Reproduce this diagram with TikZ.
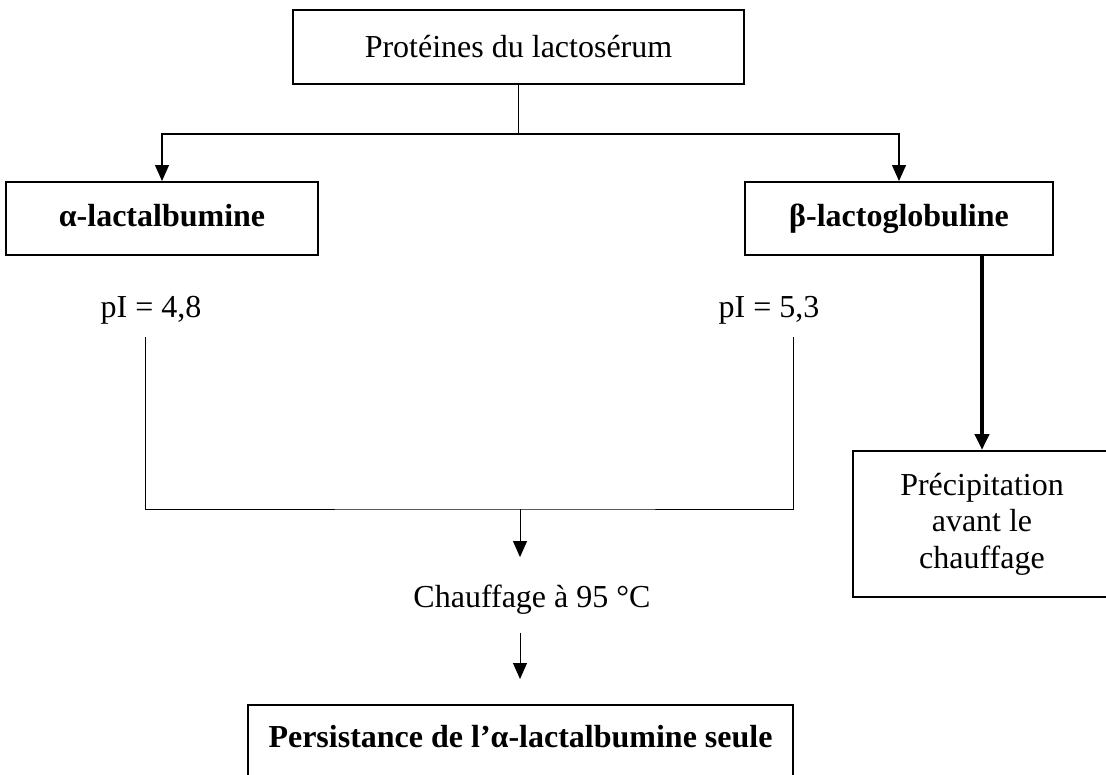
\documentclass[tikz,border=0pt]{standalone}
\usepackage{fontspec}
\setmainfont{Liberation Serif}
\usetikzlibrary{arrows.meta}

\begin{document}
\begin{tikzpicture}[x=1pt,y=-1pt,font=\fontsize{32}{36.5}\selectfont,
  box/.style={draw,line width=2pt,inner sep=0pt,align=center},
  lbl/.style={inner sep=0pt},
  link/.style={line width=1.3pt},
  arr/.style={link,-{Triangle[length=16pt,width=14pt]}}]
  \useasboundingbox (0,0) rectangle (1106,774);
  \node[box,minimum width=451pt,minimum height=74pt] (prot) at (518.5,47) {Protéines du lactosérum};
  \node[box,minimum width=312pt,minimum height=73pt,text height=22pt,text depth=7pt] (alpha) at (162,218.5) {\textbf{α-lactalbumine}};
  \node[box,minimum width=308pt,minimum height=73pt,text height=22pt,text depth=7pt] (beta) at (899,218.5) {\textbf{β-lactoglobuline}};
  \node[lbl] (pIa) at (151,310) {pI = 4,8};
  \node[lbl] (pIb) at (769,310) {pI = 5,3};
  \node[box,minimum width=258pt,minimum height=146pt] (precip) at (982,524) {Précipitation\\avant le\\chauffage};
  \node[lbl] (chauf) at (532,600) {Chauffage à 95 °C};
  \node[box,minimum width=545pt,text height=42pt,text depth=35pt,anchor=base] (pers) at (520.5,747) {\textbf{Persistance de l’α-lactalbumine seule}};
  % branches
  \draw[link] (prot.south) -- ++(0,49) coordinate (split);
  \draw[arr] (split) -| (alpha.north);
  \draw[arr] (split) -| (beta.north);
  \draw[arr,line width=4pt] (beta.south -| precip.north) -- (precip.north);
  % pI bracket
  \coordinate (la) at (145,337);
  \coordinate (rb) at (793,337);
  \coordinate (join) at (520,509);
  \draw[link,line width=1pt] (la) |- (join) -| (rb);
  \draw[arr,line width=1pt,shorten >=28pt] (join) -- (join |- chauf.north);
  \draw[arr,line width=1pt,shorten <=18pt,shorten >=25pt] (join |- chauf.south) -- (join |- pers.north);
\end{tikzpicture}
\end{document}
